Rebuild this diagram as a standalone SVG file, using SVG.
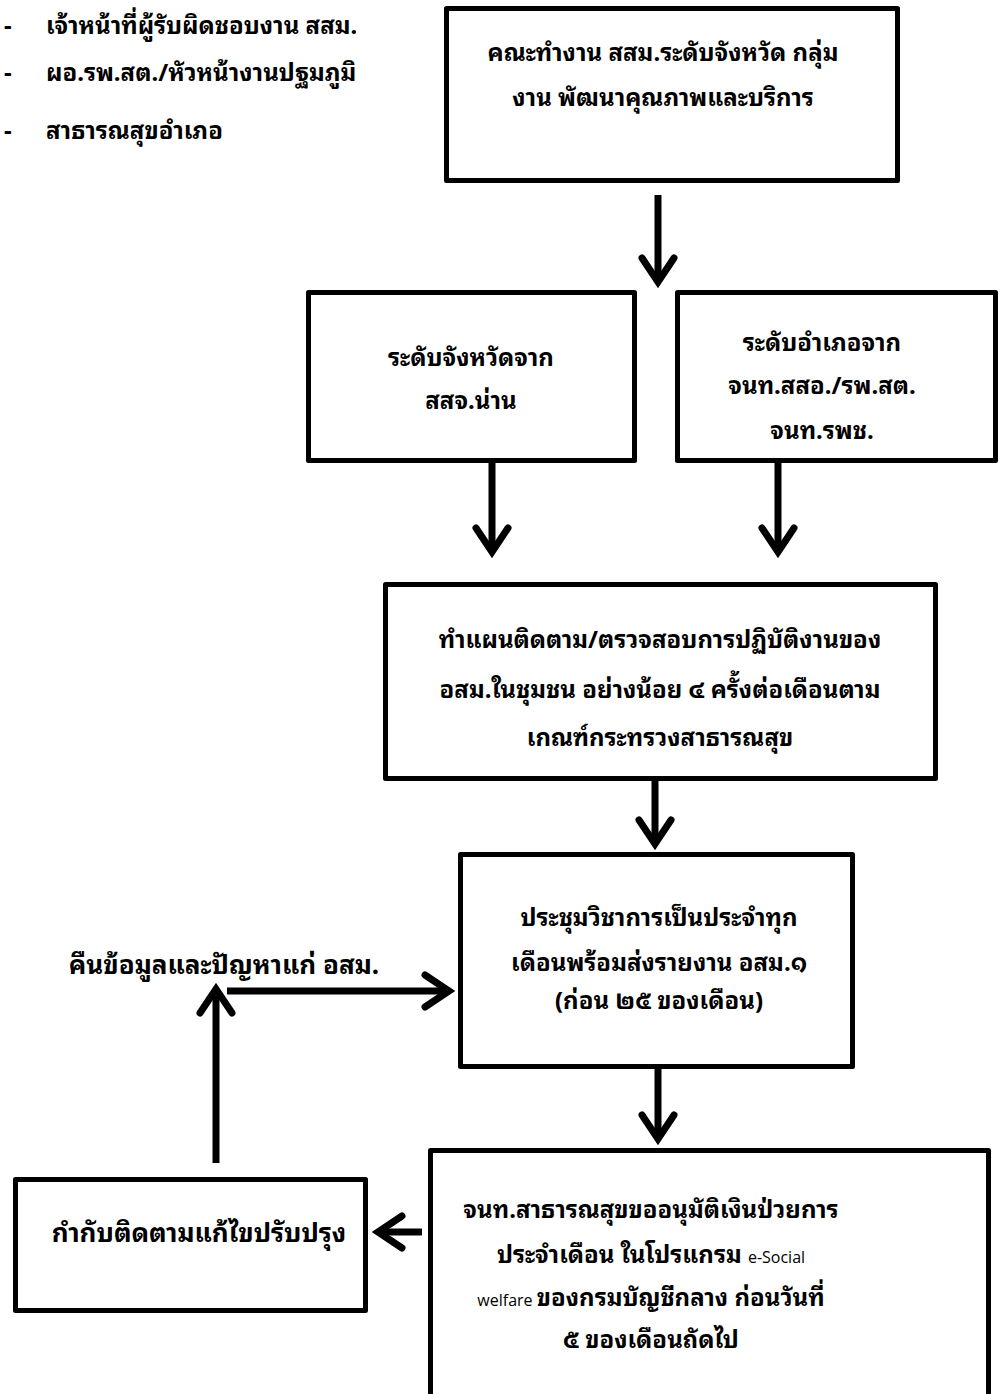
<svg xmlns="http://www.w3.org/2000/svg" width="1000" height="1394" viewBox="0 0 1000 1394">
<style>
.box{fill:#fff;stroke:#000;stroke-width:5;stroke-linejoin:round}
.t{font-family:"Noto Sans Thai Looped","Loma","Garuda","Waree","Tlwg Typo","Noto Sans Thai","Noto Sans","DejaVu Sans",sans-serif;font-size:24px;font-weight:bold;fill:#000}
.big{font-size:26px}
.c{text-anchor:middle}
.lat{font-family:"Open Sans","Noto Sans",sans-serif;font-size:16px;font-weight:normal}
.conn{fill:none;stroke:#000;stroke-width:7;marker-end:url(#ah)}
</style>
<defs>
<marker id="ah" markerUnits="userSpaceOnUse" markerWidth="40" markerHeight="40" viewBox="-30 -20 40 40" refX="0" refY="0" orient="auto" overflow="visible">
<path d="M-22,-16 L2,0 L-22,16" fill="none" stroke="#000" stroke-width="7" stroke-linecap="round" stroke-linejoin="miter"/>
</marker>
</defs>
<rect width="1000" height="1394" fill="#fff"/>
<g id="list">
<text class="t" x="4" y="34">-</text><text class="t" x="46" y="34">เจ้าหน้าที่ผู้รับผิดชอบงาน สสม.</text>
<text class="t" x="4" y="81">-</text><text class="t" x="46" y="81">ผอ.รพ.สต./หัวหน้างานปฐมภูมิ</text>
<text class="t" x="4" y="139">-</text><text class="t" x="46" y="139">สาธารณสุขอำเภอ</text>
</g>
<g id="n1"><rect class="box" x="446.5" y="8.5" width="451" height="172"/>
<text class="t c" x="663" y="61">คณะทำงาน สสม.ระดับจังหวัด  กลุ่ม</text>
<text class="t c" x="663" y="106">งาน พัฒนาคุณภาพและบริการ</text></g>
<g id="n2"><rect class="box" x="308.5" y="292.5" width="326" height="168"/>
<text class="t c" x="471" y="366">ระดับจังหวัดจาก</text>
<text class="t c" x="471" y="409">สสจ.น่าน</text></g>
<g id="n3"><rect class="box" x="677.5" y="292.5" width="318" height="168"/>
<text class="t c" x="822" y="351">ระดับอำเภอจาก</text>
<text class="t c" x="822" y="394">จนท.สสอ./รพ.สต.</text>
<text class="t c" x="822" y="439">จนท.รพช.</text></g>
<g id="n4"><rect class="box" x="385.5" y="584.5" width="550" height="194"/>
<text class="t c" x="660" y="648">ทำแผนติดตาม/ตรวจสอบการปฏิบัติงานของ</text>
<text class="t c" x="660" y="698">อสม.ในชุมชน อย่างน้อย ๔ ครั้งต่อเดือนตาม</text>
<text class="t c" x="660" y="746">เกณฑ์กระทรวงสาธารณสุข</text></g>
<g id="n5"><rect class="box" x="460.5" y="854.5" width="392" height="212"/>
<text class="t c" x="659" y="926">ประชุมวิชาการเป็นประจำทุก</text>
<text class="t c" x="659" y="971">เดือนพร้อมส่งรายงาน อสม.๑</text>
<text class="t c" x="659" y="1009">(ก่อน ๒๕ ของเดือน)</text></g>
<g id="n6"><rect class="box" x="430.5" y="1150.5" width="558" height="270"/>
<text class="t c" x="651" y="1218">จนท.สาธารณสุขขออนุมัติเงินป่วยการ</text>
<text class="t c" x="651" y="1263">ประจำเดือน ในโปรแกรม <tspan class="lat">e-Social</tspan></text>
<text class="t c" x="651" y="1306"><tspan class="lat">welfare </tspan> ของกรมบัญชีกลาง ก่อนวันที่</text>
<text class="t c" x="651" y="1348">๕ ของเดือนถัดไป</text></g>
<g id="n7"><rect class="box" x="15.5" y="1179.5" width="350" height="131"/>
<text class="t c big" x="199" y="1242">กำกับติดตามแก้ไขปรับปรุง</text></g>
<g id="label"><text class="t c big" x="224" y="974">คืนข้อมูลและปัญหาแก่ อสม.</text></g>
<g id="connectors">
<path class="conn" d="M658,195 V280"/>
<path class="conn" d="M492,463 V550"/>
<path class="conn" d="M778,463 V550"/>
<path class="conn" d="M655,781 V842"/>
<path class="conn" d="M658,1069 V1137"/>
<path class="conn" d="M422,1232 H380"/>
<path class="conn" d="M216,1163 V991"/>
<path class="conn" d="M227,991 H447"/>
</g>
</svg>
